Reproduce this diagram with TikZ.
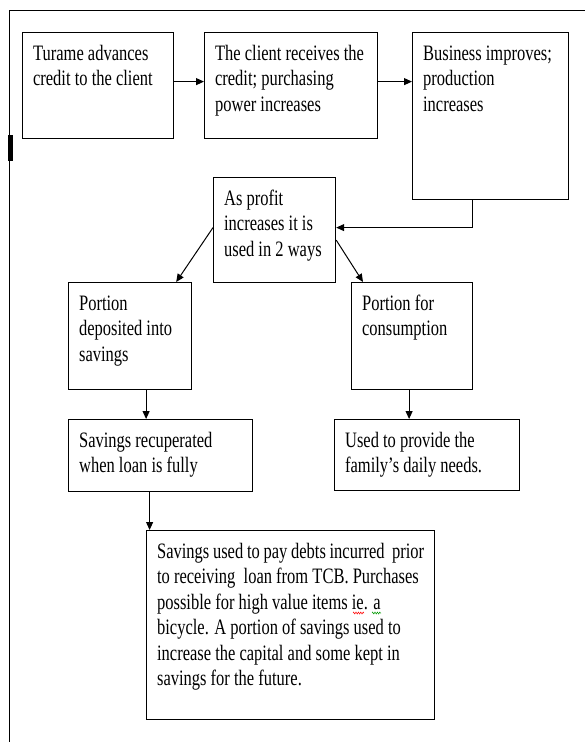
\documentclass[tikz,border=0pt]{standalone}
\usepackage{fontspec}
\setmainfont[FakeStretch=0.75]{Liberation Serif}
\usetikzlibrary{arrows.meta,decorations.pathmorphing}
\newcommand\bxtxt[3]{\parbox[t][\dimexpr#2pt-20pt\relax][t]{\dimexpr#1pt-21pt\relax}{\raggedright\strut#3}}
\tikzset{
  box/.style={draw, line width=1.2pt, anchor=north west, inner xsep=10.5pt, inner ysep=10pt},
  arr/.style={draw, line width=1pt, -{Triangle[length=8pt,width=7pt]}},
  frameline/.style={line width=0.9pt},
  squig/.style={decorate, decoration={zigzag, segment length=2.4pt, amplitude=1pt}, line width=0.5pt}
}
\begin{document}
\begin{tikzpicture}[x=1pt,y=-1pt, font=\fontsize{22}{25.5}\selectfont]
\useasboundingbox (0,0) rectangle (585,742);
\fill[white] (0,0) rectangle (585,742);
% outer frame
\coordinate (ftop) at (585,10);
\coordinate (fcorner) at (9,10);
\coordinate (fbot) at (9,742);
\draw[frameline] (ftop) -- (fcorner) -- (fbot);
\fill (8,135) rectangle (13,161);
% boxes
\node[box] (b1) at (22,32) {\bxtxt{151}{106}{Turame advances\\credit to the client}};
\node[box] (b2) at (204,32) {\bxtxt{173}{106}{The client receives the\\credit; purchasing\\power increases}};
\node[box] (b3) at (412,32) {\bxtxt{156}{167}{Business improves;\\production\\increases}};
\node[box] (b4) at (213,177) {\bxtxt{122}{105}{As profit\\increases it is\\used in 2 ways}};
\node[box] (b5) at (68,282) {\bxtxt{123}{107}{Portion\\deposited into\\savings}};
\node[box] (b6) at (351,282) {\bxtxt{121}{107}{Portion for\\consumption}};
\node[box] (b7) at (68,419) {\bxtxt{184}{72}{Savings recuperated\\when loan is fully}};
\node[box] (b8) at (334,419) {\bxtxt{185}{71}{Used to provide the\\family’s daily needs.}};
\node[box] (b9) at (146,530) {\bxtxt{288}{189}{Savings used to pay debts incurred\ \ prior\\to receiving\ \ loan from TCB. Purchases\\possible for high value items ie. a\\bicycle. A portion of savings used to\\increase the capital and some kept in\\savings for the future.}};
% connectors
\draw[arr] ([yshift=4pt]b1.east) -- ([yshift=4pt]b1.east -| b2.west);
\draw[arr] ([yshift=4pt]b2.east) -- ([yshift=4pt]b2.east -| b3.west);
\draw[arr] ([xshift=-18pt]b3.south) |- ([yshift=2.5pt]b4.east);
\draw[arr] ([yshift=2.5pt]b4.west) -- ([xshift=-16pt]b5.north east);
\draw[arr] ([yshift=-10pt]b4.east) -- ([xshift=12pt]b6.north west);
\draw[arr] ([xshift=16pt]b5.south) -- ([xshift=16pt]b5.south |- b7.north);
\draw[arr] ([xshift=-3pt]b6.south) -- ([xshift=-3pt]b6.south |- b8.north);
\draw[arr] ([xshift=-11pt]b7.south) -- ([xshift=-11pt]b7.south |- b9.north);
% spell-check marks
\draw[squig, red] (353,613) -- (364,613);
\draw[squig, green!60!black] (372,613) -- (381,613);
\end{tikzpicture}
\end{document}
